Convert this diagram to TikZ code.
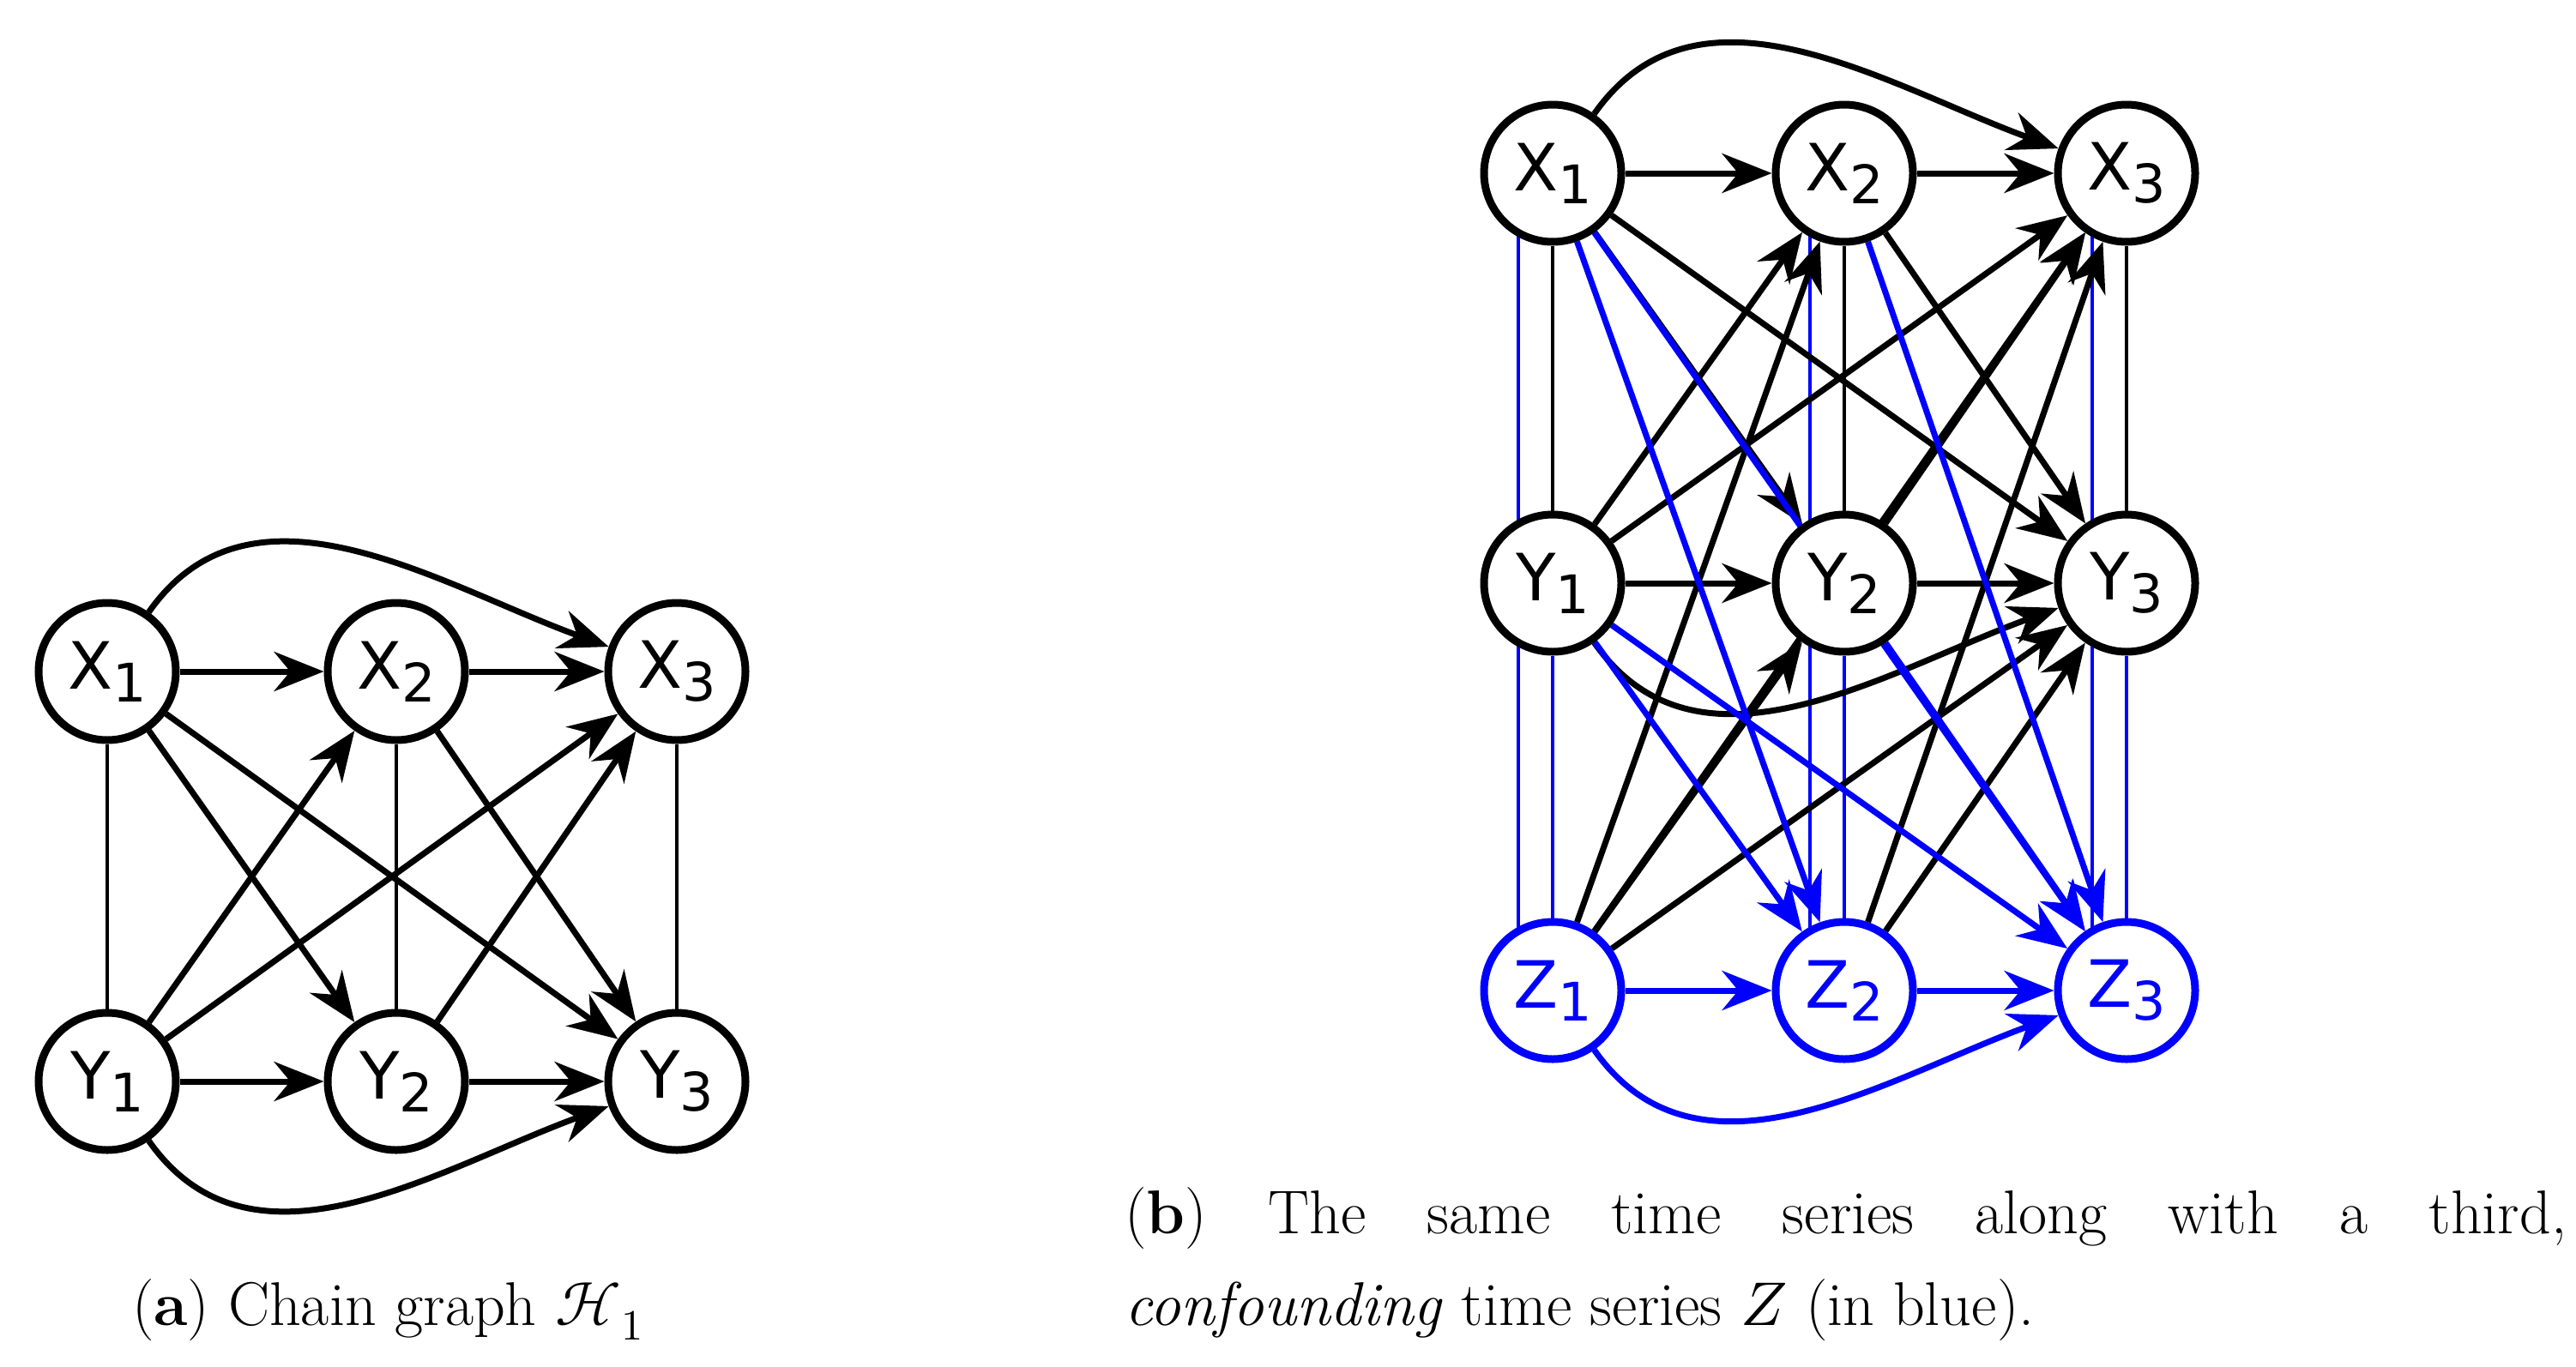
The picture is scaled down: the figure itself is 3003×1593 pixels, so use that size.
\documentclass[tikz,border=0pt]{standalone}
\usepackage{fontspec}
\usepackage{unicode-math}
\setmathfont{Latin Modern Math}
\newfontfamily\nodefont{DejaVu Sans}
\usetikzlibrary{arrows.meta,backgrounds}
\newcommand{\lab}[2]{{\nodefont\fontsize{76}{76}\selectfont #1\raisebox{-15pt}{\fontsize{62}{62}\selectfont #2}}}
\begin{document}
\begin{tikzpicture}[x=1pt,y=-1pt,
  nd/.style={circle,draw,line width=9pt,minimum size=160pt,inner sep=0pt,fill=white},
  bnd/.style={nd,draw=blue,text=blue},
  ar/.style={line width=7pt,-{Stealth[length=58pt,width=46pt]}},
  bar/.style={ar,draw=blue},
  un/.style={line width=3.5pt},
  bun/.style={un,draw=blue}]
\useasboundingbox (0,0) rectangle (3003,1593);
% panel a
\node[nd] (a1) at (125,783) {\lab{X}{1}};
\node[nd] (a2) at (462,783) {\lab{X}{2}};
\node[nd] (a3) at (789,783) {\lab{X}{3}};
\node[nd] (b1) at (125,1261) {\lab{Y}{1}};
\node[nd] (b2) at (462,1261) {\lab{Y}{2}};
\node[nd] (b3) at (789,1261) {\lab{Y}{3}};
% panel b
\node[nd] (x1) at (1810,202) {\lab{X}{1}};
\node[nd] (x2) at (2150,202) {\lab{X}{2}};
\node[nd] (x3) at (2479,202) {\lab{X}{3}};
\node[nd] (y1) at (1810,680) {\lab{Y}{1}};
\node[nd] (y2) at (2150,680) {\lab{Y}{2}};
\node[nd] (y3) at (2479,680) {\lab{Y}{3}};
\node[bnd] (z1) at (1810,1155) {\lab{Z}{1}};
\node[bnd] (z2) at (2150,1155) {\lab{Z}{2}};
\node[bnd] (z3) at (2479,1155) {\lab{Z}{3}};
\begin{pgfonlayer}{background}
% panel a edges
\draw[un] (a1)--(b1); \draw[un] (a2)--(b2); \draw[un] (a3)--(b3);
\draw[ar] (a1)--(a2); \draw[ar] (a2)--(a3);
\draw[ar] (b1)--(b2); \draw[ar] (b2)--(b3);
\draw[ar] (a1)--(b2); \draw[ar] (a1)--(b3); \draw[ar] (a2)--(b3);
\draw[ar] (b1)--(a2); \draw[ar] (b1)--(a3); \draw[ar] (b2)--(a3);
\draw[ar] (a1) to[out=55,in=160] (a3);
\draw[ar] (b1) to[out=-55,in=-160] (b3);
% panel b undirected
\draw[bun] ([xshift=-40pt]x1.center)--([xshift=-40pt]z1.center);
\draw[bun] ([xshift=-40pt]x2.center)--([xshift=-40pt]z2.center);
\draw[bun] ([xshift=-40pt]x3.center)--([xshift=-40pt]z3.center);
\draw[un] (x1)--(y1); \draw[un] (x2)--(y2); \draw[un] (x3)--(y3);
\draw[bun] (y1)--(z1); \draw[bun] (y2)--(z2); \draw[bun] (y3)--(z3);
% panel b black
\draw[ar] (x1)--(x2); \draw[ar] (x2)--(x3);
\draw[ar] (y1)--(y2); \draw[ar] (y2)--(y3);
\draw[ar] (x1)--(y2); \draw[ar] (x1)--(y3); \draw[ar] (x2)--(y3);
\draw[ar] (y1)--(x2); \draw[ar] (y1)--(x3); \draw[ar] (y2)--(x3);
\draw[ar] (z1)--(x2); \draw[ar] (z1)--(y2); \draw[ar] (z1)--(y3); \draw[ar] (z1)--(x3);
\draw[ar] (z2)--(x3); \draw[ar] (z2)--(y3);
\draw[ar] (x1) to[out=55,in=160] (x3);
\draw[ar] (y1) to[out=-55,in=-160] (y3);
% panel b blue
\draw[bar] (x1)--(z2); \draw[bar] (x1)--(z3); \draw[bar] (x2)--(z3);
\draw[bar] (y1)--(z2); \draw[bar] (y1)--(z3); \draw[bar] (y2)--(z3);
\draw[bar] (z1)--(z2); \draw[bar] (z2)--(z3);
\draw[bar] (z1) to[out=-55,in=-160] (z3);
\end{pgfonlayer}
% captions
\node[anchor=base,inner sep=0pt,font=\fontsize{72}{86}\selectfont] (ca) at (452,1545) {(\textbf{a}) Chain graph $\mathcal{H}_1$};
\node[anchor=base west,inner sep=0pt,font=\fontsize{72}{86}\selectfont] (cb1) at (1311,1438) {\makebox[1681pt][s]{(\textbf{b}) The same time series along with a third,}};
\node[anchor=base west,inner sep=0pt,font=\fontsize{72}{86}\selectfont] (cb2) at (1311,1545) {\textit{confounding} time series $Z$ (in blue).};
\end{tikzpicture}
\end{document}
